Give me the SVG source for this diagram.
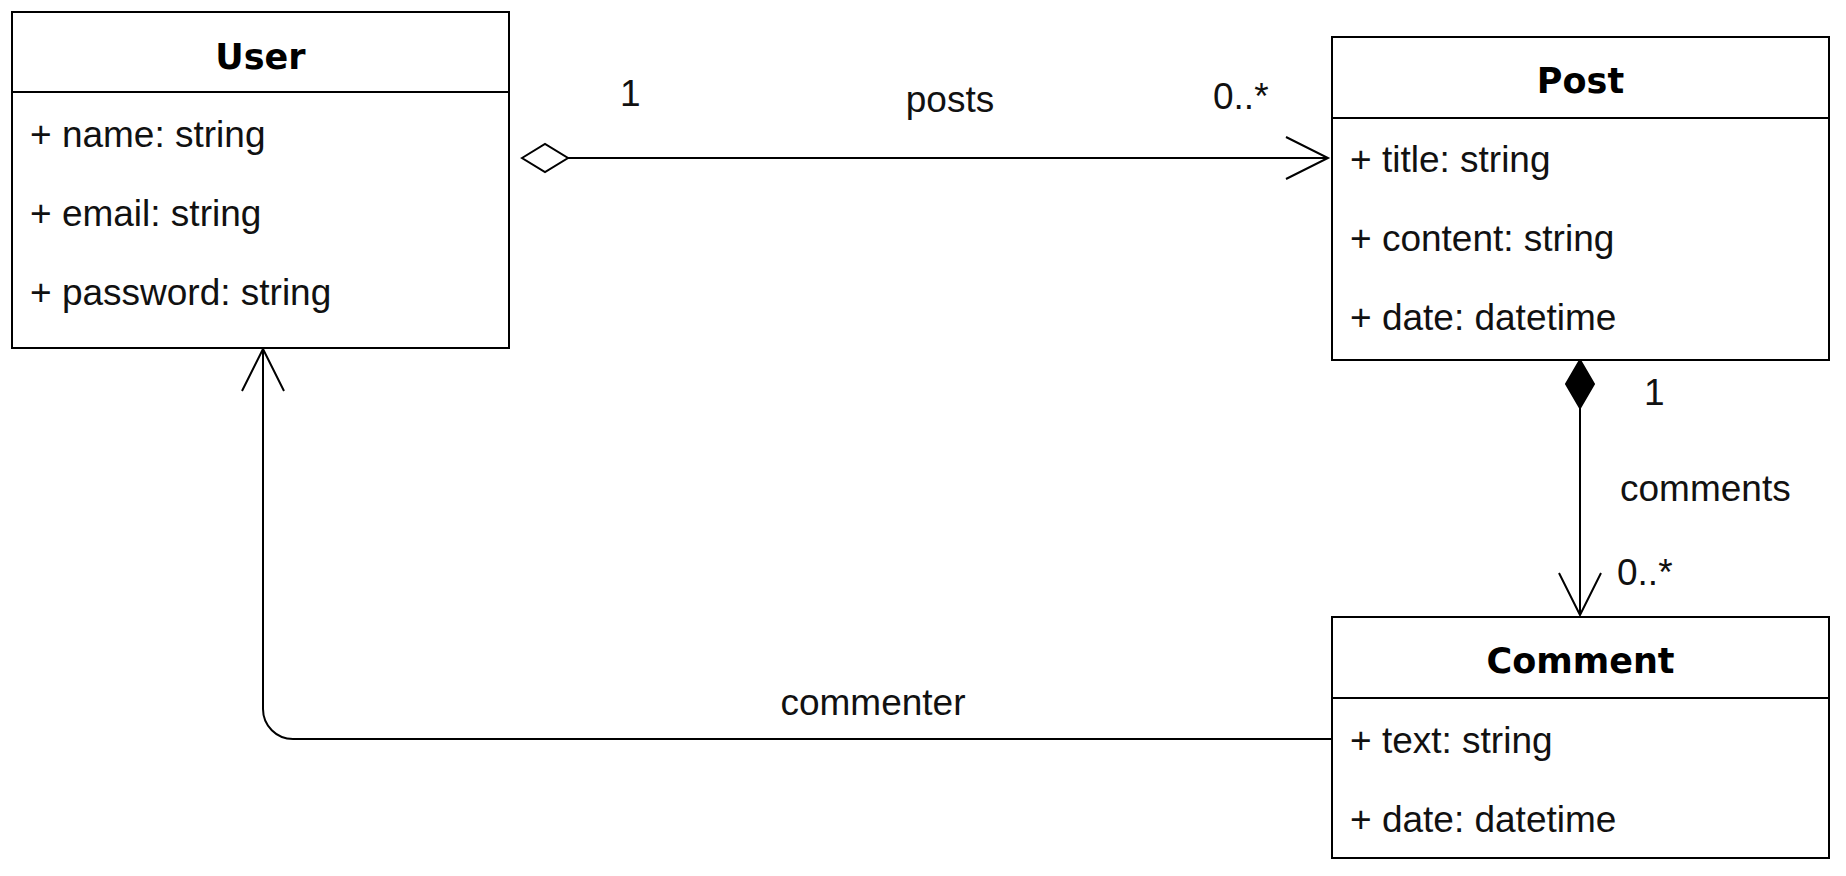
<svg xmlns="http://www.w3.org/2000/svg" width="1846" height="876" viewBox="0 0 1846 876">
<style>
.box{fill:#fff;stroke:#000;stroke-width:2}
.sep{stroke:#000;stroke-width:2}
.title{font-family:"DejaVu Sans",sans-serif;font-weight:bold;font-size:35px;fill:#000;text-anchor:middle}
.attr{font-family:"Liberation Sans",Arial,sans-serif;font-size:37px;fill:#111}
.lbl{font-family:"Liberation Sans",Arial,sans-serif;font-size:37px;fill:#111}
.edge{fill:none;stroke:#000;stroke-width:2}
</style>
<defs>
<marker id="open" markerUnits="userSpaceOnUse" orient="auto" viewBox="-46 -25 50 50" refX="0" refY="0" markerWidth="50" markerHeight="50" overflow="visible">
<path d="M-42,-21 L0,0 L-42,21" fill="none" stroke="#000" stroke-width="2"/>
</marker>
<marker id="hollow" markerUnits="userSpaceOnUse" orient="auto" viewBox="-2 -16 52 32" refX="0" refY="0" markerWidth="52" markerHeight="32" overflow="visible">
<path d="M0,0 L23,-14 L46,0 L23,14 Z" fill="#fff" stroke="#000" stroke-width="2"/>
</marker>
<marker id="filled" markerUnits="userSpaceOnUse" orient="auto" viewBox="-2 -16 52 32" refX="0" refY="0" markerWidth="52" markerHeight="32" overflow="visible">
<path d="M0,0 L24,-14 L48,0 L24,14 Z" fill="#000" stroke="#000" stroke-width="2"/>
</marker>
</defs>
<rect width="1846" height="876" fill="#fff"/>
<g id="connectors">
<g id="edge-posts">
<path class="edge" d="M522,158 L1328,158" marker-start="url(#hollow)" marker-end="url(#open)"/>
<text class="lbl" x="620" y="106">1</text>
<text class="lbl" x="950" y="112" text-anchor="middle">posts</text>
<text class="lbl" x="1213" y="109">0..*</text>
</g>
<g id="edge-comments">
<path class="edge" d="M1580,360 L1580,615" marker-start="url(#filled)" marker-end="url(#open)"/>
<text class="lbl" x="1644" y="405">1</text>
<text class="lbl" x="1620" y="501">comments</text>
<text class="lbl" x="1617" y="585">0..*</text>
</g>
<g id="edge-commenter">
<path class="edge" d="M1332,739 L293,739 A30,30 0 0 1 263,709 L263,349" marker-end="url(#open)"/>
<text class="lbl" x="873" y="715" text-anchor="middle">commenter</text>
</g>
</g>
<g id="node-user">
<rect class="box" x="12" y="12" width="497" height="336"/>
<line class="sep" x1="12" y1="92" x2="509" y2="92"/>
<text class="title" x="260.5" y="69">User</text>
<text class="attr" x="30" y="147">+ name: string</text>
<text class="attr" x="30" y="226">+ email: string</text>
<text class="attr" x="30" y="305">+ password: string</text>
</g>
<g id="node-post">
<rect class="box" x="1332" y="37" width="497" height="323"/>
<line class="sep" x1="1332" y1="118" x2="1829" y2="118"/>
<text class="title" x="1580.5" y="93">Post</text>
<text class="attr" x="1350" y="172">+ title: string</text>
<text class="attr" x="1350" y="251">+ content: string</text>
<text class="attr" x="1350" y="330">+ date: datetime</text>
</g>
<g id="node-comment">
<rect class="box" x="1332" y="617" width="497" height="241"/>
<line class="sep" x1="1332" y1="698" x2="1829" y2="698"/>
<text class="title" x="1580.5" y="673">Comment</text>
<text class="attr" x="1350" y="753">+ text: string</text>
<text class="attr" x="1350" y="832">+ date: datetime</text>
</g>
</svg>
